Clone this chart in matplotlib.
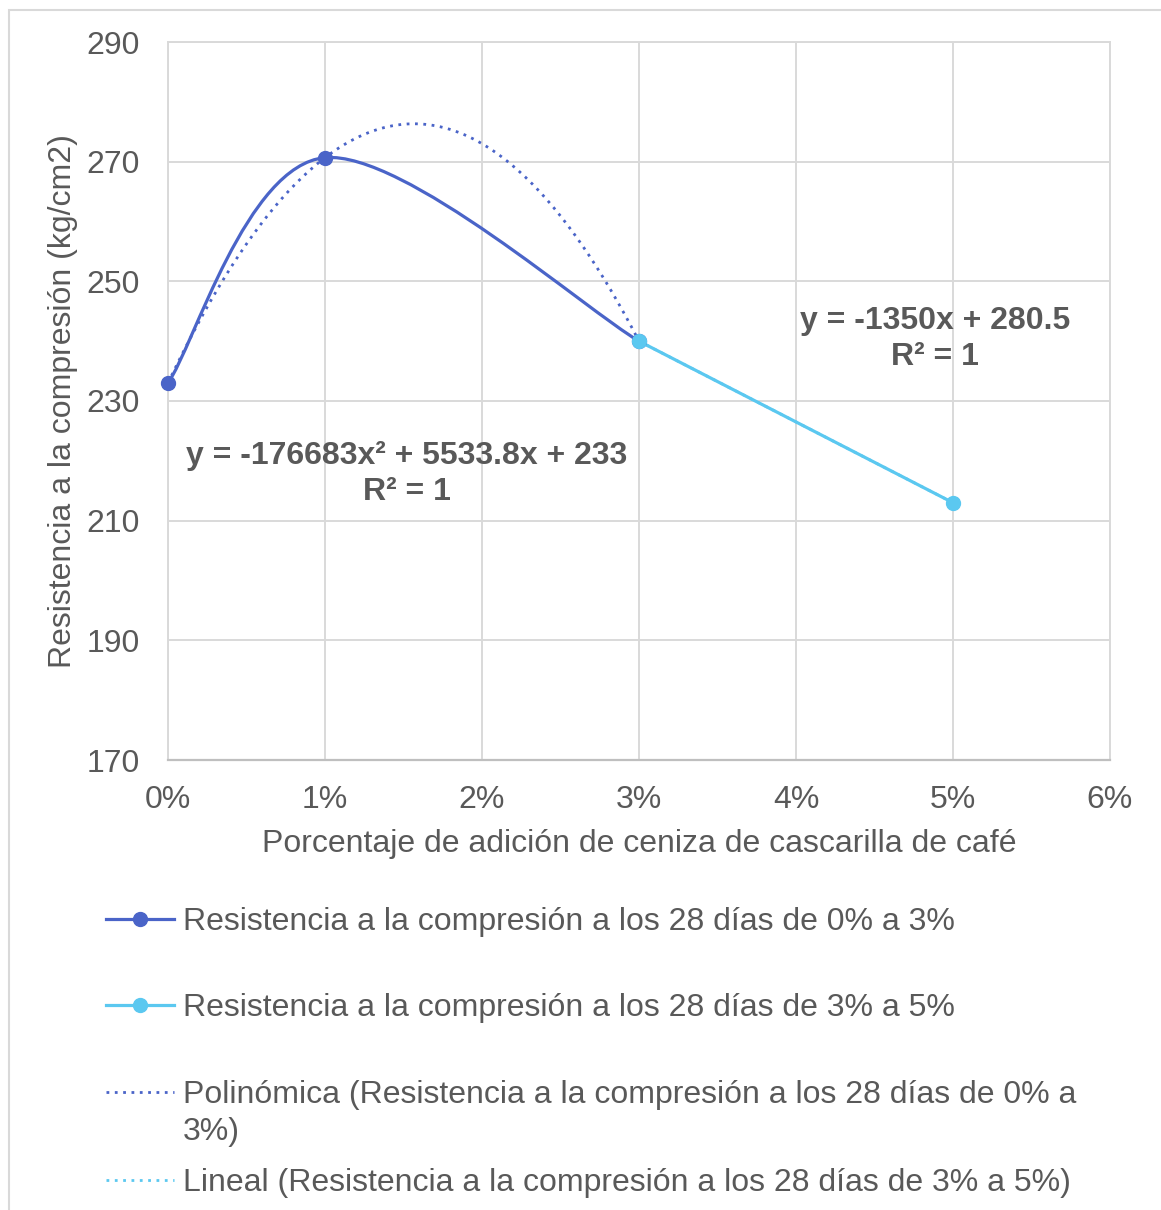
import numpy as np
import matplotlib
matplotlib.use("Agg")
import matplotlib.pyplot as plt
from matplotlib.path import Path
from matplotlib.patches import PathPatch, Rectangle
from matplotlib.lines import Line2D
from matplotlib.ticker import FixedLocator, FuncFormatter

# ---- data ----
x_s1 = [0.00, 0.01, 0.03]
y_s1 = [233.0, 270.67, 240.0]
x_s2 = [0.03, 0.05]
y_s2 = [240.0, 213.0]
x_ticks = [0.00, 0.01, 0.02, 0.03, 0.04, 0.05, 0.06]
y_ticks = [170, 190, 210, 230, 250, 270, 290]
labels = [
    "Resistencia a la compresión a los 28 días de 0% a 3%",
    "Resistencia a la compresión a los 28 días de 3% a 5%",
    "Polinómica (Resistencia a la compresión a los 28 días de 0% a\n3%)",
    "Lineal (Resistencia a la compresión a los 28 días de 3% a 5%)",
]
eq_poly = "y = -176683x² + 5533.8x + 233\nR² = 1"
eq_lin = "y = -1350x + 280.5\nR² = 1"

C1 = "#4A64C8"
C2 = "#5BC8F0"
TXT = "#595959"
GRID = "#D9D9D9"

plt.rcParams['font.family'] = ['Liberation Sans', 'DejaVu Sans']
FS = 23

W, H = 1161, 1210
fig = plt.figure(figsize=(W / 100, H / 100), dpi=100)
ax = fig.add_axes([168 / W, 1 - 760 / H, (1110 - 168) / W, (760 - 42) / H])

ax.set_xlim(0, 0.06)
ax.set_ylim(170, 290)
ax.xaxis.set_major_locator(FixedLocator(x_ticks))
ax.yaxis.set_major_locator(FixedLocator(y_ticks))
ax.xaxis.set_major_formatter(FuncFormatter(lambda v, p: f"{v*100:.0f}%"))
ax.grid(True, color=GRID, lw=1.4, zorder=0)
ax.set_axisbelow(True)
for s in ['top', 'left', 'right']:
    ax.spines[s].set_color(GRID)
    ax.spines[s].set_linewidth(1.4)
ax.spines['bottom'].set_color("#BFBFBF")
ax.spines['bottom'].set_linewidth(1.6)
ax.tick_params(length=0, labelsize=FS, labelcolor=TXT)
ax.tick_params(axis='y', pad=20)
ax.tick_params(axis='x', pad=18)
ax.set_xlabel("Porcentaje de adición de ceniza de cascarilla de café",
              fontsize=FS, color=TXT, labelpad=10)
ax.set_ylabel("Resistencia a la compresión (kg/cm2)", fontsize=FS, color=TXT)
ax.yaxis.set_label_coords(-90 / 942, 0.5)

# smoothed series 1 (Catmull-Rom style Bezier, affine invariant)
P = np.column_stack([x_s1, y_s1])
n = len(P)
verts = [tuple(P[0])]
codes = [Path.MOVETO]
for i in range(n - 1):
    p0 = P[max(i - 1, 0)]
    p1 = P[i]
    p2 = P[i + 1]
    p3 = P[min(i + 2, n - 1)]
    c1 = p1 + (p2 - p0) / 6.0
    c2 = p2 - (p3 - p1) / 6.0
    verts += [tuple(c1), tuple(c2), tuple(p2)]
    codes += [Path.CURVE4] * 3
ax.add_patch(PathPatch(Path(verts, codes), fill=False, edgecolor=C1, lw=2.3,
                       zorder=3, capstyle='round'))

# series 2 (straight)
ax.plot(x_s2, y_s2, color=C2, lw=2.3, zorder=3, solid_capstyle='round')

# trendlines
cp = np.polyfit(x_s1, y_s1, 2)
xp = np.linspace(min(x_s1), max(x_s1), 200)
ax.plot(xp, np.polyval(cp, xp), color=C1, lw=2.0, ls=(0, (1, 2)), zorder=4)
cl = np.polyfit(x_s2, y_s2, 1)
xl = np.linspace(min(x_s2), max(x_s2), 50)
ax.plot(xl, np.polyval(cl, xl), color=C2, lw=2.0, ls=(0, (1, 2)), zorder=4)

# markers
ax.plot(x_s1, y_s1, ls='none', marker='o', ms=10, color=C1, zorder=5, clip_on=False)
ax.plot(x_s2, y_s2, ls='none', marker='o', ms=10, color=C2, zorder=6, clip_on=False)

# equations
ax.text(0.01522, 217.8, eq_poly, fontsize=FS, fontweight='bold', color=TXT,
        ha='center', va='center', linespacing=1.27, zorder=7)
ax.text(0.04885, 240.4, eq_lin, fontsize=FS, fontweight='bold', color=TXT,
        ha='center', va='center', linespacing=1.27, zorder=7)

# outer border
fig.add_artist(Rectangle((9 / W, -0.1), 1.2, 1 - 10 / H + 0.1,
                         transform=fig.transFigure, fill=False,
                         edgecolor=GRID, lw=1.5))

# legend (manual layout)
handles = [
    dict(color=C1, ls='-', marker='o', lw=2.3),
    dict(color=C2, ls='-', marker='o', lw=2.3),
    dict(color=C1, ls=(0, (1, 2)), marker=None, lw=2.0),
    dict(color=C2, ls=(0, (1, 2)), marker=None, lw=2.0),
]
ys = [919, 1005, 1092, 1180]
for h, lab, yy in zip(handles, labels, ys):
    yf = 1 - yy / H
    fig.add_artist(Line2D([106 / W, 174 / W], [yf, yf], transform=fig.transFigure,
                          color=h['color'], ls=h['ls'], lw=h['lw']))
    if h['marker']:
        fig.add_artist(Line2D([140 / W], [yf], transform=fig.transFigure,
                              color=h['color'], marker='o', ms=10, ls='none'))
    if '\n' in lab:
        fig.text(183 / W, 1 - (yy - 12) / H, lab, fontsize=FS, color=TXT,
                 ha='left', va='top', linespacing=1.3)
    else:
        fig.text(183 / W, 1 - (yy + 3) / H, lab, fontsize=FS, color=TXT,
                 ha='left', va='center')

fig.savefig("out.png", dpi=100)
